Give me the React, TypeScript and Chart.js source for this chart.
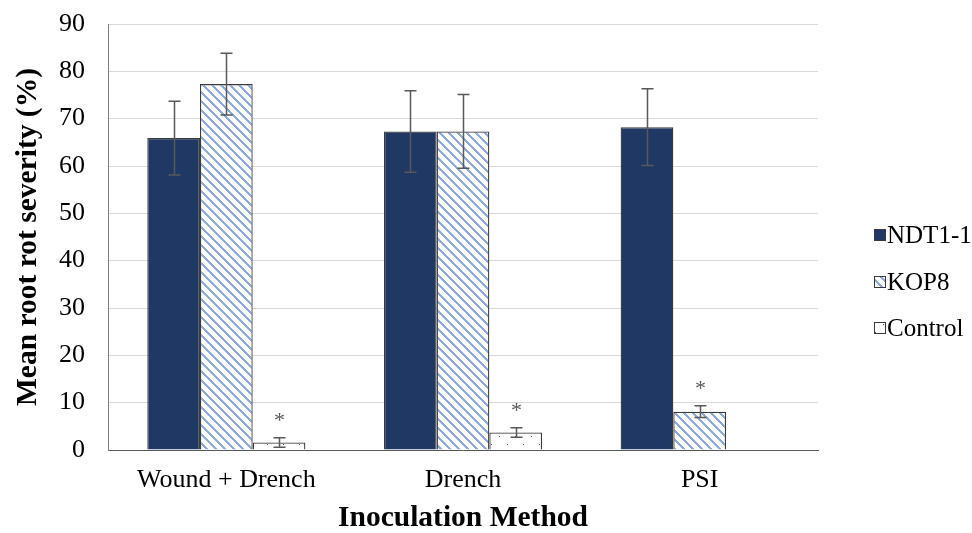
import React, { useEffect, useRef } from "react";
import { Chart, registerables } from "chart.js";

Chart.register(...registerables);

const categories = ["Wound + Drench", "Drench", "PSI"];
const seriesNames = ["NDT1-1", "KOP8", "Control"];
const ndtValues = [65.9, 67.3, 68.2];
const ndtErrors = [7.8, 8.6, 8.1];
const kopValues = [77.3, 67.3, 8.1];
const kopErrors = [6.5, 7.8, 1.25];
const controlValues: (number | null)[] = [1.6, 3.7, null];
const controlErrors: (number | null)[] = [1.0, 1.0, null];
const ndtMarks = ["", "", ""];
const kopMarks = ["", "", "*"];
const controlMarks = ["*", "*", ""];
const yMin = 0;
const yMax = 90;
const yStep = 10;

const FONT = "'Liberation Serif', 'Times New Roman', serif";

function makeStripePattern(): CanvasPattern | string {
  const s = 9;
  const c = document.createElement("canvas");
  c.width = s;
  c.height = s;
  const g = c.getContext("2d");
  if (!g) return "#8FAADC";
  g.fillStyle = "#ffffff";
  g.fillRect(0, 0, s, s);
  g.fillStyle = "#8FAADC";
  for (let y = 0; y < s; y++) {
    for (let x = 0; x < s; x++) {
      if ((((x - y) % s) + s) % s < 3) g.fillRect(x, y, 1, 1);
    }
  }
  return g.createPattern(c, "repeat") || "#8FAADC";
}

function makeDotPattern(): CanvasPattern | string {
  const s = 16;
  const c = document.createElement("canvas");
  c.width = s;
  c.height = s;
  const g = c.getContext("2d");
  if (!g) return "#ffffff";
  g.fillStyle = "#ffffff";
  g.fillRect(0, 0, s, s);
  g.fillStyle = "#555555";
  g.fillRect(3, 4, 1, 1);
  g.fillRect(11, 12, 1, 1);
  return g.createPattern(c, "repeat") || "#ffffff";
}

export default function App() {
  const ref = useRef<HTMLCanvasElement | null>(null);

  useEffect(() => {
    if (!ref.current) return;
    const stripe = makeStripePattern();
    const dots = makeDotPattern();
    const errors = [ndtErrors, kopErrors, controlErrors];
    const marks = [ndtMarks, kopMarks, controlMarks];

    const errorBarPlugin = {
      id: "errorBars",
      afterDatasetsDraw(chart: any) {
        const ctx = chart.ctx;
        const yScale = chart.scales.y;
        ctx.save();
        chart.data.datasets.forEach((ds: any, i: number) => {
          const meta = chart.getDatasetMeta(i);
          meta.data.forEach((bar: any, j: number) => {
            const v = ds.data[j];
            const e = errors[i][j];
            if (v == null || e == null) return;
            const x = Math.round(bar.x) + 0.5;
            const yHi = yScale.getPixelForValue(v + e);
            const yLo = yScale.getPixelForValue(Math.max(v - e, 0));
            ctx.strokeStyle = "#595959";
            ctx.lineWidth = 1.5;
            ctx.beginPath();
            ctx.moveTo(x, yHi);
            ctx.lineTo(x, yLo);
            ctx.moveTo(x - 6, yHi);
            ctx.lineTo(x + 6, yHi);
            ctx.moveTo(x - 6, yLo);
            ctx.lineTo(x + 6, yLo);
            ctx.stroke();
            const m = marks[i][j];
            if (m) {
              ctx.fillStyle = "#595959";
              ctx.font = `22px ${FONT}`;
              ctx.textAlign = "center";
              ctx.textBaseline = "alphabetic";
              ctx.fillText(m, x, yHi - 21 + 10);
            }
          });
        });
        ctx.restore();
      },
    };

    const legendPlugin = {
      id: "customLegend",
      afterDraw(chart: any) {
        const ctx = chart.ctx;
        ctx.save();
        const rows = [235, 282, 328];
        chart.data.datasets.forEach((ds: any, i: number) => {
          const y = rows[i];
          const bx = 874;
          const size = 12;
          ctx.fillStyle = ds.backgroundColor;
          ctx.fillRect(bx, y - size / 2, size, size);
          ctx.strokeStyle = "#3a3a3a";
          ctx.lineWidth = 1;
          ctx.strokeRect(bx + 0.5, y - size / 2 + 0.5, size - 1, size - 1);
          ctx.fillStyle = "#000000";
          ctx.font = `25px ${FONT}`;
          ctx.textAlign = "left";
          ctx.textBaseline = "middle";
          ctx.fillText(ds.label, bx + size + 1, y + 1);
        });
        ctx.restore();
      },
    };

    const chart = new Chart(ref.current, {
      type: "bar",
      data: {
        labels: categories,
        datasets: [
          {
            label: seriesNames[0],
            data: ndtValues,
            backgroundColor: "#203864",
            borderColor: "#3a3a3a",
            borderWidth: 1.3,
          },
          {
            label: seriesNames[1],
            data: kopValues,
            backgroundColor: stripe as any,
            borderColor: "#3a3a3a",
            borderWidth: 1.3,
          },
          {
            label: seriesNames[2],
            data: controlValues,
            backgroundColor: dots as any,
            borderColor: "#3a3a3a",
            borderWidth: 1.3,
          },
        ],
      },
      options: {
        animation: false,
        responsive: true,
        maintainAspectRatio: false,
        layout: { padding: { left: 0, right: 154, top: 24, bottom: 0 } },
        datasets: {
          bar: { categoryPercentage: 0.668, barPercentage: 1 },
        },
        plugins: {
          legend: { display: false },
          tooltip: { enabled: false },
        },
        scales: {
          x: {
            grid: { display: false, drawTicks: false },
            border: { display: true, color: "#595959", width: 1 },
            ticks: {
              color: "#000000",
              font: { family: FONT, size: 26 },
              padding: 15,
            },
            title: {
              display: true,
              text: "Inoculation Method",
              color: "#000000",
              font: { family: FONT, size: 29.5, weight: "bold", lineHeight: 1 },
              padding: { top: -2, bottom: 0 },
            },
            afterFit(scale: any) {
              scale.height = 83;
            },
          },
          y: {
            min: yMin,
            max: yMax,
            grid: { color: "#d9d9d9", lineWidth: 1, drawTicks: false },
            border: { display: true, color: "#7f7f7f", width: 1 },
            ticks: {
              stepSize: yStep,
              color: "#000000",
              font: { family: FONT, size: 26 },
              padding: 23,
            },
            title: {
              display: true,
              text: "Mean root rot severity (%)",
              color: "#000000",
              font: { family: FONT, size: 29.5, weight: "bold" },
              padding: { top: 11, bottom: 0 },
            },
            afterFit(scale: any) {
              scale.width = 108;
              scale.paddingTop = 0;
              scale.paddingBottom = 0;
            },
          },
        },
      },
      plugins: [errorBarPlugin, legendPlugin],
    });
    return () => chart.destroy();
  }, []);

  return (
    <div style={{ position: "absolute", left: 0, top: 0, width: 972, height: 533, background: "#ffffff" }}>
      <canvas ref={ref} />
    </div>
  );
}
